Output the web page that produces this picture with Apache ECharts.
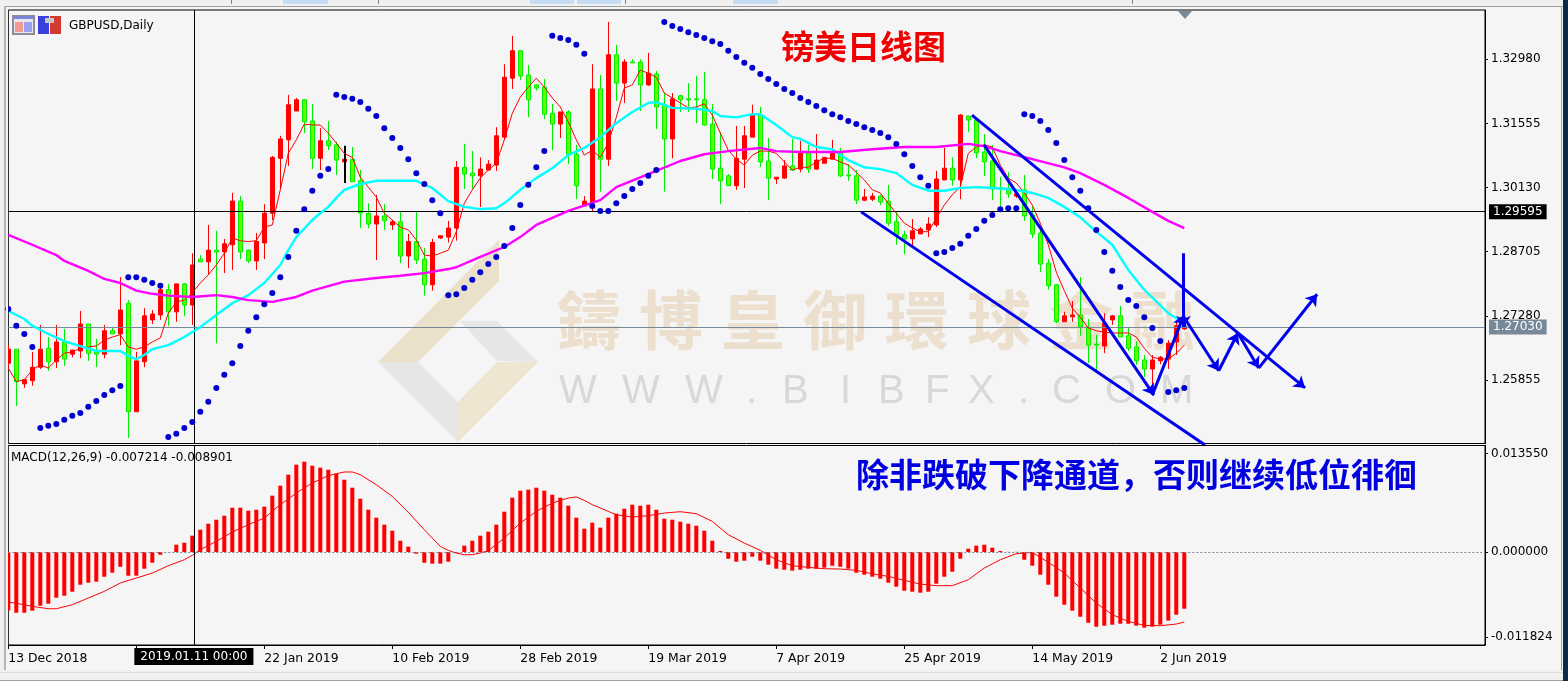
<!DOCTYPE html>
<html><head><meta charset="utf-8">
<style>html,body{margin:0;padding:0;background:#f5f5f5}#c{width:1568px;height:681px}</style>
<script src="https://cdn.jsdelivr.net/npm/echarts@6/dist/echarts.min.js"></script>
</head><body><div id="c"></div>
<script>
const opens=[1.2623,1.2654,1.2577,1.2584,1.2614,1.2656,1.2626,1.2670,1.2643,1.2650,
1.2710,1.2648,1.2643,1.2695,1.2688,1.2756,1.2515,1.2626,1.2719,1.2730,
1.2786,1.2737,1.2799,1.2752,1.2854,1.2848,1.2874,1.2870,1.2886,1.2983,
1.2874,1.2850,1.2890,1.2956,1.3078,1.3119,1.3183,1.3208,1.3161,1.3078,
1.3117,1.3108,1.3070,1.3076,1.3028,1.2956,1.2932,1.2950,1.2930,1.2937,
1.2861,1.2893,1.2854,1.2797,1.2901,1.2903,1.2923,1.3058,1.3045,1.3039,
1.3052,1.3063,1.3125,1.3256,1.3317,1.3263,1.3241,1.3236,1.3178,1.3154,
1.3181,1.3087,1.2972,1.2981,1.3232,1.3076,1.3308,1.3245,1.3292,1.3292,
1.3241,1.3265,1.3197,1.3121,1.3217,1.3210,1.3210,1.3208,1.3154,1.3056,
1.3039,1.3017,1.3076,1.3125,1.3174,1.3072,1.3032,1.3034,1.3061,1.3054,
1.3090,1.3054,1.3067,1.3076,1.3090,1.3041,1.3039,1.2985,1.2987,1.2994,
1.2983,1.2937,1.2908,1.2899,1.2910,1.2919,1.2930,1.3030,1.3056,1.3030,
1.3172,1.3163,1.3092,1.3072,1.3012,1.3012,1.2994,1.3008,1.2952,1.2912,
1.2845,1.2797,1.2715,1.2726,1.2730,1.2703,1.2665,1.2661,1.2719,1.2728,
1.2684,1.2659,1.2630,1.2610,1.2628,1.2632,1.2670,1.2699];
const closes=[1.2654,1.2582,1.2586,1.2614,1.2654,1.2626,1.2670,1.2632,1.2652,1.2710,
1.2645,1.2643,1.2695,1.2688,1.2741,1.2515,1.2628,1.2728,1.2732,1.2786,
1.2737,1.2799,1.2752,1.2841,1.2848,1.2874,1.2870,1.2888,1.2983,1.2870,
1.2850,1.2893,1.2956,1.3080,1.3121,1.3197,1.3208,1.3159,1.3078,1.3117,
1.3106,1.3074,1.3076,1.3026,1.2956,1.2932,1.2950,1.2939,1.2937,1.2861,
1.2893,1.2852,1.2797,1.2891,1.2906,1.2923,1.3058,1.3043,1.3039,1.3054,
1.3065,1.3128,1.3258,1.3317,1.3261,1.3208,1.3234,1.3176,1.3154,1.3181,
1.3087,1.3017,1.2983,1.3232,1.3076,1.3308,1.3245,1.3292,1.3290,1.3241,
1.3267,1.3192,1.3121,1.3210,1.3208,1.3208,1.3208,1.3152,1.3054,1.3028,
1.3017,1.3078,1.3128,1.3174,1.3070,1.3034,1.3036,1.3061,1.3052,1.3092,
1.3054,1.3074,1.3080,1.3090,1.3039,1.3039,1.2985,1.2992,1.2994,1.2981,
1.2934,1.2908,1.2899,1.2917,1.2921,1.2932,1.3032,1.3056,1.3030,1.3174,
1.3163,1.3090,1.3070,1.3010,1.3010,1.2999,1.2999,1.2950,1.2910,1.2843,
1.2795,1.2715,1.2728,1.2730,1.2703,1.2663,1.2663,1.2712,1.2728,1.2681,
1.2656,1.2628,1.2610,1.2630,1.2636,1.2667,1.2706,1.2703];
const lows=[1.2614,1.2528,1.2568,1.2573,1.2610,1.2606,1.2612,1.2617,1.2636,1.2634,
1.2628,1.2614,1.2634,1.2688,1.2663,1.2457,1.2515,1.2614,1.2710,1.2719,
1.2706,1.2715,1.2728,1.2708,1.2848,1.2819,1.2667,1.2823,1.2830,1.2854,
1.2845,1.2830,1.2854,1.2941,1.3010,1.3061,1.3183,1.3134,1.3054,1.3052,
1.3096,1.3041,1.3061,1.3026,1.2923,1.2923,1.2852,1.2919,1.2919,1.2845,
1.2834,1.2843,1.2773,1.2784,1.2899,1.2891,1.2895,1.3010,1.3010,1.2970,
1.3052,1.3050,1.3119,1.3232,1.3252,1.3169,1.3228,1.3165,1.3096,1.3123,
1.3065,1.2987,1.2972,1.2961,1.3004,1.3061,1.3205,1.3201,1.3290,1.3183,
1.3239,1.3143,1.3004,1.3078,1.3181,1.3181,1.3156,1.3150,1.3032,1.2976,
1.3017,1.3008,1.3012,1.3125,1.3058,1.2985,1.3021,1.3032,1.3050,1.3047,
1.3045,1.3052,1.3067,1.3076,1.3036,1.3028,1.2976,1.2983,1.2983,1.2974,
1.2928,1.2886,1.2865,1.2884,1.2910,1.2903,1.2925,1.3030,1.3017,1.2987,
1.3136,1.3078,1.3039,1.2985,1.2961,1.2990,1.2990,1.2939,1.2901,1.2825,
1.2786,1.2712,1.2715,1.2715,1.2684,1.2623,1.2608,1.2645,1.2708,1.2681,
1.2650,1.2619,1.2592,1.2563,1.2621,1.2610,1.2641,1.2697];
const highs=[1.2663,1.2654,1.2588,1.2648,1.2708,1.2681,1.2708,1.2699,1.2652,1.2739,
1.2710,1.2677,1.2708,1.2703,1.2814,1.2763,1.2648,1.2745,1.2741,1.2797,
1.2799,1.2799,1.2801,1.2867,1.2863,1.2930,1.2917,1.2899,1.3001,1.2994,
1.2876,1.2912,1.2976,1.3083,1.3128,1.3219,1.3212,1.3210,1.3199,1.3145,
1.3161,1.3115,1.3080,1.3103,1.3052,1.2978,1.2997,1.2976,1.2941,1.2959,
1.2910,1.2959,1.2879,1.2899,1.2906,1.2939,1.3072,1.3110,1.3094,1.3080,
1.3074,1.3147,1.3287,1.3350,1.3319,1.3285,1.3243,1.3254,1.3199,1.3181,
1.3185,1.3108,1.2994,1.3287,1.3263,1.3381,1.3330,1.3298,1.3298,1.3298,
1.3312,1.3272,1.3223,1.3223,1.3219,1.3245,1.3261,1.3270,1.3199,1.3136,
1.3043,1.3150,1.3150,1.3197,1.3192,1.3123,1.3036,1.3074,1.3121,1.3117,
1.3108,1.3132,1.3080,1.3119,1.3101,1.3065,1.3052,1.3010,1.3001,1.2997,
1.3019,1.2961,1.2917,1.2943,1.2925,1.2947,1.3050,1.3101,1.3080,1.3176,
1.3172,1.3165,1.3132,1.3108,1.3036,1.3047,1.3008,1.3041,1.2970,1.2919,
1.2854,1.2799,1.2737,1.2761,1.2814,1.2721,1.2686,1.2734,1.2730,1.2750,
1.2703,1.2672,1.2641,1.2641,1.2639,1.2674,1.2715,1.2717];
const maFast=[1.2612,1.2582,1.2586,1.2608,1.2619,1.2612,1.2630,1.2645,1.2648,1.2656,
1.2659,1.2661,1.2674,1.2681,1.2686,1.2659,1.2654,1.2659,1.2670,1.2679,
1.2734,1.2759,1.2763,1.2779,1.2801,1.2819,1.2841,1.2867,1.2901,1.2895,
1.2893,1.2895,1.2925,1.2930,1.3008,1.3089,1.3119,1.3154,1.3152,1.3152,
1.3134,1.3112,1.3089,1.3080,1.3036,1.3014,1.2992,1.2956,1.2941,1.2925,
1.2919,1.2897,1.2863,1.2861,1.2867,1.2874,1.2915,1.2978,1.3008,1.3034,
1.3052,1.3067,1.3119,1.3178,1.3214,1.3236,1.3256,1.3236,1.3212,1.3192,
1.3159,1.3119,1.3085,1.3096,1.3080,1.3112,1.3169,1.3234,1.3241,1.3274,
1.3267,1.3258,1.3223,1.3212,1.3201,1.3190,1.3192,1.3199,1.3174,1.3134,
1.3096,1.3076,1.3063,1.3085,1.3094,1.3094,1.3089,1.3070,1.3052,1.3058,
1.3058,1.3070,1.3078,1.3078,1.3070,1.3063,1.3047,1.3030,1.3008,1.3001,
1.2978,1.2956,1.2934,1.2923,1.2915,1.2915,1.2945,1.2974,1.2997,1.3014,
1.3089,1.3103,1.3108,1.3103,1.3063,1.3034,1.3023,1.3001,1.2974,1.2934,
1.2886,1.2825,1.2784,1.2745,1.2725,1.2701,1.2695,1.2692,1.2690,1.2690,
1.2690,1.2681,1.2656,1.2636,1.2632,1.2632,1.2645,1.2663];
const maMidBars=[0,1,2,3,5,7,9,11,14,15,16,17,18,20,22,24,26,28,30,32,34,35,36,38,39,40,41,42,44,46,49,51,53,55,57,59,61,62,64,66,68,70,72,74,76,78,80,81,83,86,88,89,91,93,94,96,98,99,101,103,105,107,109,111,113,115,117,119,121,123,126,128,130,132,134,136,138,140,142,145,147];
const maMid=[1.2739,1.2730,1.2721,1.2706,1.2688,1.2672,1.2661,1.2650,1.2650,1.2639,1.2632,1.2641,1.2654,1.2663,1.2681,1.2703,1.2730,1.2756,1.2774,1.2801,1.2841,1.2874,1.2903,1.2941,1.2956,1.2970,1.2990,1.3008,1.3021,1.3028,1.3028,1.3028,1.3012,1.2983,1.2970,1.2965,1.2967,1.2978,1.3008,1.3034,1.3056,1.3085,1.3101,1.3125,1.3156,1.3181,1.3201,1.3203,1.3190,1.3188,1.3183,1.3172,1.3169,1.3176,1.3176,1.3152,1.3125,1.3121,1.3103,1.3098,1.3074,1.3058,1.3054,1.3045,1.3019,1.3006,1.3006,1.3012,1.3014,1.3012,1.3008,1.3001,1.2990,1.2970,1.2947,1.2915,1.2886,1.2830,1.2786,1.2734,1.2712];
const maSlowBars=[0,3,6,7,10,12,14,16,18,20,23,26,28,30,33,36,38,42,46,49,52,55,56,59,62,64,66,70,74,76,80,84,87,90,94,96,99,104,108,112,116,120,122,124,128,132,134,137,140,143,145,147];
const maSlow=[1.2908,1.2886,1.2863,1.2850,1.2828,1.2810,1.2801,1.2784,1.2777,1.2773,1.2770,1.2774,1.2770,1.2763,1.2759,1.2770,1.2784,1.2804,1.2812,1.2817,1.2823,1.2832,1.2836,1.2859,1.2881,1.2903,1.2930,1.2961,1.2985,1.3014,1.3043,1.3072,1.3087,1.3094,1.3101,1.3094,1.3092,1.3092,1.3098,1.3103,1.3103,1.3110,1.3105,1.3094,1.3076,1.3058,1.3045,1.3019,1.2990,1.2959,1.2939,1.2923];
const sar=[1.2743,1.2706,1.2688,1.2659,1.2479,1.2484,1.2488,1.2497,1.2506,1.2512,1.2526,1.2539,1.2552,1.2563,1.2572,
1.2814,1.2814,1.2808,1.2801,1.2795,
1.2459,1.2466,1.2479,1.2492,1.2515,1.2537,1.2568,1.2597,1.2623,1.2661,1.2695,1.2725,1.2754,1.2779,1.2814,1.2859,1.2917,1.2965,1.3006,1.3039,1.3054,
1.3219,1.3214,1.3210,1.3203,1.3188,1.3172,1.3145,1.3123,1.3101,1.3076,1.3045,1.3021,1.2985,1.2956,
1.2774,1.2776,1.2790,1.2808,1.2825,1.2843,1.2859,1.2883,1.2923,1.2974,1.3019,1.3058,1.3094,
1.3350,1.3345,1.3341,1.3330,1.3310,
1.2972,1.2961,1.2961,1.2978,1.2994,1.3010,1.3023,1.3039,1.3052,
1.3381,1.3372,1.3365,1.3358,1.3352,1.3345,1.3338,1.3332,1.3317,1.3303,1.3290,1.3279,1.3265,1.3254,1.3243,1.3232,1.3223,1.3212,
1.3203,1.3194,1.3185,1.3176,1.3169,1.3161,1.3154,1.3147,1.3141,1.3134,1.3125,1.3110,1.3087,1.3061,1.3036,1.3017,
1.2867,1.2870,1.2879,1.2888,1.2906,1.2921,1.2939,1.2952,1.2965,1.2967,1.2967,
1.3176,1.3172,1.3161,1.3141,1.3112,1.3074,1.3036,1.3006,1.2967,1.2919,1.2870,1.2828,1.2792,1.2763,1.2750,1.2725,1.2701,1.2672,
1.2559,1.2563,1.2568];
const macdBars=[-0.00742,-0.00772,-0.00772,-0.00746,-0.00683,-0.00657,-0.00581,-0.00555,-0.00505,-0.00416,
-0.00390,-0.00377,-0.00314,-0.00263,-0.00187,-0.00301,-0.00301,-0.00212,-0.00136,-0.00034,
0,0.00093,0.00119,0.00208,0.00284,0.00360,0.00411,0.00462,0.00564,0.00564,
0.00526,0.00538,0.00577,0.00717,0.00844,0.00984,0.01111,0.01149,0.01098,0.01073,
0.01047,0.00996,0.00920,0.00818,0.00678,0.00538,0.00437,0.00348,0.00271,0.00144,
0.00068,-0.00021,-0.00136,-0.00148,-0.00148,-0.00123,-0.00013,0.00081,0.00144,0.00208,
0.00259,0.00348,0.00513,0.00691,0.00780,0.00793,0.00818,0.00780,0.00729,0.00691,
0.00589,0.00437,0.00297,0.00373,0.00310,0.00437,0.00488,0.00551,0.00602,0.00589,
0.00602,0.00538,0.00424,0.00411,0.00386,0.00360,0.00335,0.00271,0.00144,0.00013,
-0.00085,-0.00123,-0.00110,-0.00059,-0.00110,-0.00161,-0.00212,-0.00225,-0.00237,-0.00225,
-0.00212,-0.00212,-0.00199,-0.00174,-0.00187,-0.00212,-0.00263,-0.00288,-0.00314,-0.00339,
-0.00390,-0.00441,-0.00492,-0.00505,-0.00517,-0.00505,-0.00403,-0.00314,-0.00250,-0.00085,
0.00042,0.00081,0.00093,0.00055,0.00013,0.00002,0.00002,-0.00098,-0.00174,-0.00288,
-0.00416,-0.00568,-0.00670,-0.00746,-0.00823,-0.00899,-0.00950,-0.00937,-0.00924,-0.00912,
-0.00912,-0.00937,-0.00962,-0.00950,-0.00924,-0.00873,-0.00797,-0.00721];
const signalBars=[0,2,3,5,6,8,10,12,14,16,18,20,22,23,24,26,28,30,32,34,36,38,40,41,42,43,44,46,48,50,52,54,55,56,57,58,59,60,62,64,66,68,70,71,72,73,74,75,76,78,80,82,84,86,88,90,92,94,96,98,100,102,104,106,108,110,112,114,116,118,120,122,124,126,128,130,132,134,136,138,140,142,144,146,147];
const signal=[-0.00636,-0.00670,-0.00691,-0.00721,-0.00721,-0.00670,-0.00585,-0.00500,-0.00394,-0.00331,-0.00267,-0.00174,-0.00098,-0.00042,0.00030,0.00136,0.00254,0.00348,0.00432,0.00602,0.00750,0.00878,0.00971,0.00996,0.01018,0.01018,0.00984,0.00856,0.00708,0.00505,0.00284,0.00072,0.00021,-0.00013,-0.00034,-0.00034,-0.00013,0.00017,0.00178,0.00369,0.00517,0.00623,0.00687,0.00700,0.00657,0.00602,0.00560,0.00517,0.00475,0.00445,0.00462,0.00496,0.00513,0.00488,0.00390,0.00220,0.00114,0.00021,-0.00098,-0.00174,-0.00195,-0.00212,-0.00216,-0.00233,-0.00276,-0.00310,-0.00360,-0.00407,-0.00428,-0.00428,-0.00352,-0.00204,-0.00098,-0.00021,-0.00004,-0.00131,-0.00267,-0.00458,-0.00649,-0.00797,-0.00882,-0.00933,-0.00937,-0.00916,-0.00890];
const dateTickBars=[0,32,48,64,80,96,112,128,144];
const dateTickLabels=['13 Dec 2018','22 Jan 2019','10 Feb 2019','28 Feb 2019','19 Mar 2019','7 Apr 2019','25 Apr 2019','14 May 2019','2 Jun 2019'];
const allDateTicks=[0,16,32,48,64,80,96,112,128,144];
const priceTicks=[1.32980,1.31555,1.30130,1.28705,1.27280,1.25855];
const macdTickPos=[0.01253,0,-0.01080];
const macdTickLabels=['0.013550','0.000000','-0.011824'];
// [bar, price] pairs of the hand-drawn objects
const arrowedLines=[[[120.46,1.3174],[162.1,1.2568]],[[121.96,1.3108],[143.2,1.2552]],[[143,1.2552],[146.96,1.2730]],[[146.9,1.2867],[146.9,1.2703]],[[146.96,1.2725],[151.3,1.2606]],[[151.3,1.2606],[153.7,1.2690]],[[153.7,1.2690],[156.3,1.2612]],[[156.3,1.2612],[163.6,1.2776]]];
const plainLines=[[[106.6,1.2959],[149.6,1.2441]]];
const blackMark=[[[42,1.3106],[42,1.3023]]];
const crossBar=23.2, crossPrice=1.29595, lastPrice=1.27030;
const FONT='"DejaVu Sans"';
const candles=opens.map((o,i)=>[i,o,closes[i],lows[i],highs[i]]);
const pairs=(a,b)=>a.map((x,i)=>[x,b[i]]);
const chart=echarts.init(document.getElementById('c'));
const poly=(pts,fill,z)=>({type:'polygon',silent:true,z:z||1,shape:{points:pts},style:{fill}});
const rect=(x,y,w,h,fill,z)=>({type:'rect',silent:true,z:z||5,shape:{x,y,width:w,height:h},style:{fill}});
const txt=(text,x,y,font,fill,extra)=>({type:'text',silent:true,z:(extra&&extra.zz)||20,style:Object.assign({text,x,y,font,fill,textVerticalAlign:'middle'},extra||{})});
const wm=[...'鑄博皇御環球金融'].map((ch,i)=>txt(ch,557+82*i,320,'bold 64px "Noto Sans CJK TC"','#ecdfcd',{zz:1}));
const www=[['W',559],['W',622],['W',685],['.',746],['B',782],['I',840],['B',878],['F',925],['X',968],['.',1018],['C',1052],['O',1105],['M',1160]].map(a=>txt(a[0],a[1],392,'40px "Liberation Sans"','#d8d8d8',{zz:1}));
const graphic=[
 poly([[499,240],[499,281],[418,362],[378,362]],'#ebe0c9'),
 poly([[460,321],[497,321],[538,362],[497,361]],'#e6e6e6'),
 poly([[497,362],[538,362],[458,442],[458,402]],'#efe6d2'),
 poly([[378,362],[418,362],[458,402],[458,442]],'#e6e6e6'),
 ...wm,...www,
 rect(6,8,2,640,'#f5f5f5',15),
 rect(0,0,1568,6,'#f0f0f0'),rect(0,6,1563,1,'#a0a0a0'),
 rect(283,0,45,4,'#c5dcf2'),rect(530,0,44,4,'#c5dcf2'),rect(577,0,44,4,'#c5dcf2'),rect(733,0,45,4,'#c5dcf2'),
 rect(231,0,1,4,'#808080'),rect(378,0,1,4,'#808080'),rect(625,0,1,4,'#808080'),rect(1132,0,1,4,'#808080'),
 rect(0,0,4,681,'#f0f0f0'),rect(4,6,2,664,'#b4b4b4'),
 rect(1563,0,5,681,'#0a2a4a'),rect(1561,6,1,664,'#a0a0a0'),
 rect(0,670,1563,11,'#f0f0f0'),rect(0,672,1563,1,'#dcdcdc'),rect(0,680,1563,1,'#a0a0a0'),
 poly([[1178,11],[1192,11],[1185,19]],'#778899',6),
 rect(12,15,23,20,'#8c8c96'),rect(14,17,19,16,'#e8e8f0'),rect(15,22,8,10,'#f09a90'),rect(24,22,8,10,'#9aa0f0'),rect(14,16,19,3,'#7c86d8'),
 rect(38,16,11,18,'#3a40e0'),rect(50,16,11,18,'#d03a30'),rect(45,18,9,5,'#c8c8c8'),
 txt('GBPUSD,Daily',69,26,'12px '+FONT,'#000'),
 txt('MACD(12,26,9) -0.007214 -0.008901',11,458,'12px '+FONT,'#000'),
 txt('镑美日线图',781,46,'bold 33px "Noto Sans CJK SC"','#f00000',{textShadowColor:'#400',textShadowBlur:0,textShadowOffsetX:1,textShadowOffsetY:1}),
 txt('除非跌破下降通道，否则继续低位徘徊',856,474,'bold 33px "Noto Sans CJK SC"','#0000e0',{textShadowColor:'#002',textShadowBlur:0,textShadowOffsetX:1,textShadowOffsetY:1})
];
const boxLabel=(text,bg)=>({show:true,position:'end',formatter:text,color:'#fff',backgroundColor:bg,fontFamily:FONT,fontSize:12,padding:[2,4,1,4],distance:4});
chart.setOption({
 animation:false,backgroundColor:'#f5f5f5',graphic,
 grid:[
  {left:8.3,top:10,width:1476.7,height:433.5,show:true,backgroundColor:'#f5f5f5',borderColor:'#000',borderWidth:1},
  {left:8.3,top:445.5,width:1476.7,height:199.5,show:true,backgroundColor:'#f5f5f5',borderColor:'#000',borderWidth:1}
 ],
 xAxis:[
  {gridIndex:0,type:'value',min:0,max:184.59,show:false},
  {gridIndex:1,type:'value',min:0,max:184.59,splitLine:{show:false},axisLine:{show:true,onZero:false,lineStyle:{color:'#000'}},
   axisTick:{show:true,length:4,customValues:allDateTicks,lineStyle:{color:'#000'}},
   axisLabel:{customValues:dateTickBars,align:'left',margin:8,color:'#000',fontFamily:FONT,fontSize:12.4,
    formatter:v=>dateTickLabels[dateTickBars.indexOf(v)]||''}}
 ],
 yAxis:[
  {gridIndex:0,type:'value',position:'right',min:1.24445,max:1.34074,splitLine:{show:false},axisLine:{show:true,onZero:false,lineStyle:{color:'#000'}},
   axisTick:{show:true,length:3,customValues:priceTicks,lineStyle:{color:'#000'}},
   axisLabel:{customValues:priceTicks,margin:6,padding:[3,0,0,0],color:'#000',fontFamily:FONT,fontSize:12,formatter:v=>v.toFixed(5)}},
  {gridIndex:1,type:'value',position:'right',min:-0.011824,max:0.01355,splitLine:{show:false},axisLine:{show:true,onZero:false,lineStyle:{color:'#000'}},
   axisTick:{show:true,length:3,customValues:macdTickPos,lineStyle:{color:'#000'}},
   axisLabel:{customValues:macdTickPos,margin:6,padding:[3,0,0,0],color:'#000',fontFamily:FONT,fontSize:12,formatter:v=>macdTickLabels[macdTickPos.indexOf(v)]||''}}
 ],
 series:[
  {type:'line',name:'guides',xAxisIndex:0,yAxisIndex:0,data:[],z:2,
   markLine:{silent:true,symbol:'none',animation:false,precision:5,data:[
     {xAxis:crossBar,lineStyle:{color:'#000',width:1,type:'solid'},label:{show:false}},
     {yAxis:crossPrice,lineStyle:{color:'#000',width:1,type:'solid'},label:boxLabel('1.29595','#000')},
     {yAxis:lastPrice,lineStyle:{color:'#778899',width:1,type:'solid'},label:boxLabel('1.27030','#778899')}]}},
  {type:'candlestick',xAxisIndex:0,yAxisIndex:0,data:candles,encode:{x:0,y:[1,2,3,4]},barWidth:4,z:3,clip:true,
   itemStyle:{color:'#ff0000',color0:'#66ff00',borderColor:'#ff0000',borderColor0:'#00ee00',borderWidth:1}},
  {type:'lines',coordinateSystem:'cartesian2d',xAxisIndex:0,yAxisIndex:0,z:4,data:blackMark.map(c=>({coords:c})),lineStyle:{color:'#000',width:2,opacity:1}},
  {type:'line',xAxisIndex:0,yAxisIndex:0,data:pairs(maFast.map((_,i)=>i),maFast),showSymbol:false,symbol:'none',lineStyle:{color:'#ff0000',width:1},z:5},
  {type:'line',xAxisIndex:0,yAxisIndex:0,data:pairs(maMidBars,maMid),showSymbol:false,symbol:'none',lineStyle:{color:'#00ffff',width:2.4},z:5},
  {type:'line',xAxisIndex:0,yAxisIndex:0,data:pairs(maSlowBars,maSlow),showSymbol:false,symbol:'none',lineStyle:{color:'#ff00ff',width:2.4},z:5},
  {type:'scatter',xAxisIndex:0,yAxisIndex:0,data:sar.map((v,i)=>[i,v]),symbolSize:6,itemStyle:{color:'#0000cd',opacity:1},z:6},
  {type:'lines',coordinateSystem:'cartesian2d',xAxisIndex:0,yAxisIndex:0,z:7,data:plainLines.map(c=>({coords:c})),lineStyle:{color:'#0000ee',width:3,opacity:1}},
  {type:'lines',coordinateSystem:'cartesian2d',xAxisIndex:0,yAxisIndex:0,z:7,symbol:['none','arrow'],symbolSize:11,data:arrowedLines.map(c=>({coords:c})),lineStyle:{color:'#0000ee',width:3,opacity:1}},
  {type:'bar',xAxisIndex:1,yAxisIndex:1,data:macdBars.map((v,i)=>[i,v]),barWidth:4,clip:true,itemStyle:{color:'#ff0000'},z:3,
   markLine:{silent:true,symbol:'none',animation:false,lineStyle:{color:'#778899',width:1,type:[2,2]},label:{show:false},data:[{yAxis:0}]}},
  {type:'line',xAxisIndex:1,yAxisIndex:1,data:pairs(signalBars,signal),showSymbol:false,symbol:'none',lineStyle:{color:'#ff0000',width:1},z:4,
   markLine:{silent:true,symbol:'none',animation:false,lineStyle:{color:'#000',width:1,type:'solid'},
    data:[{xAxis:crossBar,label:{show:true,position:'start',formatter:'2019.01.11 00:00',color:'#fff',backgroundColor:'#000',fontFamily:FONT,fontSize:12,padding:[3,6,2,6],distance:3}}]}}
 ]
});
</script></body></html>
